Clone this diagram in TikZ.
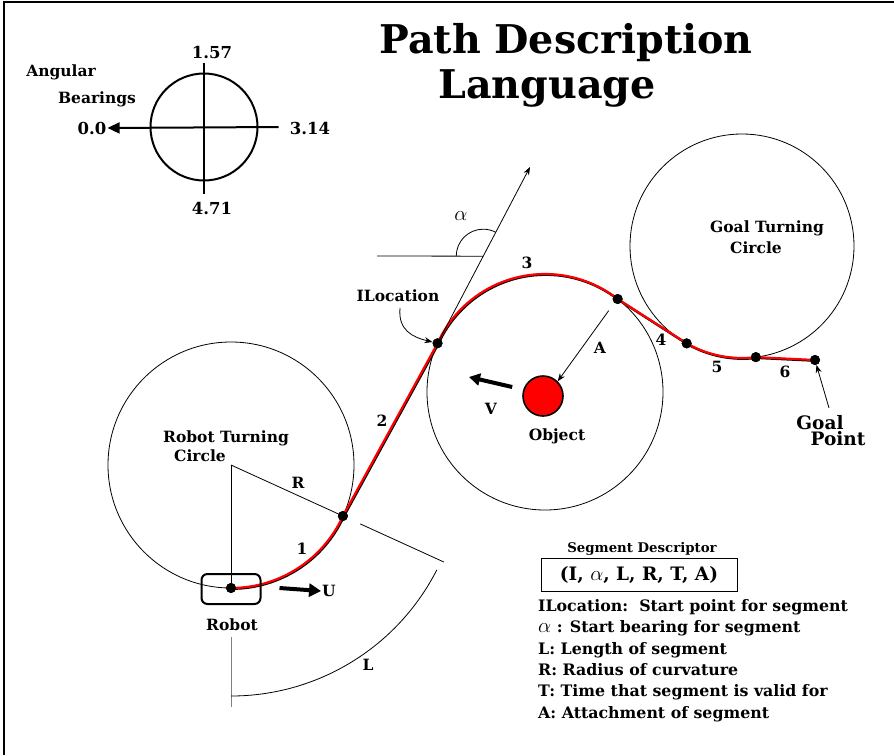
\documentclass[tikz,border=0pt]{standalone}
\usepackage{fontspec}
\setmainfont{DejaVu Serif}
\usetikzlibrary{positioning,arrows.meta,calc}

\begin{document}
\begin{tikzpicture}[x=1pt,y=-1pt,>={Stealth[length=8pt,width=6pt]},
  lbl/.style={font=\bfseries\fontsize{15.5}{17}\selectfont,inner sep=1pt},
  num/.style={font=\bfseries\fontsize{16.5}{18}\selectfont,inner sep=1pt},
  small/.style={font=\bfseries\fontsize{13.3}{15}\selectfont,inner sep=1pt},
  title/.style={font=\bfseries\fontsize{39.6}{44}\selectfont,inner sep=0pt},
  dot/.style={circle,fill,inner sep=0pt,minimum size=10pt},
  thinline/.style={line width=0.8pt},
  seg/.style={draw=red,line width=2.2pt,preaction={draw=black,line width=2.4pt,transform canvas={shift={(0.7pt,-0.7pt)}}}},
  fat/.style={line width=4pt,-{Triangle[length=12pt,width=13pt]}}]
\useasboundingbox (0,0) rectangle (894,755);
\draw[line width=1.5pt] (4,755) -- (4,2) -- (894,2);

% title
\node[title] (t1) at (566,43) {Path Description};
\node[title] (t2) at (547,88) {Language};

% angular bearings
\node[circle,draw,line width=2pt,minimum size=107pt,inner sep=0pt] (bear) at (204,127) {};
\draw[line width=2pt] ($(bear.north)+(0,-10)$) -- ($(bear.south)+(0,12)$);
\node[num] (b0) at (92,128) {0.0};
\draw[line width=2pt,-{Triangle[length=12pt,width=11pt]}] ($(bear.east)+(20,0)$) -- (b0.east);
\node[num] (b157) at (212,52) {1.57};
\node[num] (b314) at (310,128) {3.14};
\node[num] (b471) at (212,208) {4.71};
\node[lbl] (ang) at (61,72) {Angular};
\node[lbl] (brg) at (97,99) {Bearings};

% turning circles
\coordinate (c1) at (231,465);
\coordinate (c2) at (545,392);
\coordinate (c3) at (742,246);
\draw[thinline] (c1) circle[radius=123];
\draw[thinline] (c2) circle[radius=118];
\draw[thinline] (c3) circle[radius=112];

% path points
\node[dot] (robot) at (231,588) {};
\node[dot] (p1) at ($(c1)+(24.5:123)$) {};
\node[dot] (iloc) at ($(c2)+(-155.6:118)$) {};
\node[dot] (p3) at ($(c2)+(-52:118)$) {};
\node[dot] (p4) at ($(c3)+(119.6:112)$) {};
\node[dot] (p5) at ($(c3)+(82.9:112)$) {};
\node[dot] (goal) at (815,360) {};

% segments
\draw[seg] (robot.center) arc[start angle=90,end angle=24.5,radius=123];
\draw[seg] (p1.center) -- (iloc.center);
\draw[seg] (iloc.center) arc[start angle=-155.6,end angle=-52,radius=118];
\draw[seg] (p3.center) -- (p4.center);
\draw[seg] (p4.center) arc[start angle=119.6,end angle=82.9,radius=112];
\draw[seg] (p5.center) -- (goal.center);
\foreach \p in {robot,p1,iloc,p3,p4,p5,goal} \node[dot] at (\p) {};

\node[lbl] (n1) at (302,549) {1};
\node[lbl] (n2) at (382,421) {2};
\node[lbl] (n3) at (527,263) {3};
\node[lbl] (n4) at (661,340) {4};
\node[lbl] (n5) at (717,367) {5};
\node[lbl] (n6) at (785,372) {6};

% robot
\node[draw,line width=2pt,rounded corners=6pt,minimum width=59pt,minimum height=30pt] (robotbox) at (231,589) {};
\node[lbl] (robotlbl) at (232,625) {Robot};
\node[lbl] (ulbl) at (329,591) {U};
\draw[fat] ($(robotbox.east)+(18,-1)$) -- (ulbl.west);
\node[lbl] (rtc1) at (226,438) {Robot Turning};
\node[lbl] (rtc2) at (200,456) {Circle};
\draw[thinline] (c1) -- (robot.center);
\draw[thinline] (c1) -- (p1.center);
\node[lbl] (rlbl) at (298,483) {R};

% length L
\draw[thinline,gray] ($(c1)+(90:172)$) -- ($(c1)+(90:242)$);
\draw[thinline] ($(c1)+(24.5:142)$) -- ($(c1)+(24.5:234)$);
\draw[thinline] ($(c1)+(90:231)$) arc[start angle=90,end angle=27,radius=231];
\node[lbl] (llbl) at (368,665) {L};

% object
\node[circle,draw,fill=red,line width=1.6pt,minimum size=40pt,inner sep=0pt] (obj) at (543,396) {};
\node[lbl] (objlbl) at (557,436) {Object};
\node[lbl] (vlbl) at (491,409) {V};
\coordinate (vtip) at (469,377);
\draw[line width=4pt,-{Triangle[length=11pt,width=12pt]}] ($(obj.west)+(-10,-9)$) -- (vtip);
\draw[thinline,->] ($(p3)!0.12!(obj)$) -- (obj.north east);
\node[lbl] (albl) at (600,348) {A};

% start bearing alpha
\coordinate (hcross) at ($(iloc)!0.494!(530,167)$);
\coordinate (tang) at (530,167);
\draw[thinline] (377,256) -- (hcross);
\draw[thinline,->] (iloc.center) -- (tang);
\draw[thinline] ($(hcross)+(-27,0)$) arc[start angle=180,end angle=297.9,radius=27];
\node[font=\fontsize{20}{22}\selectfont] (alpha) at (461,216) {$\alpha$};
\node[lbl] (iloclbl) at (398,296) {ILocation};
\draw[thinline,->] (400,308) .. controls (398,330) and (412,337) .. (iloc);

% goal
\node[lbl] (gtc1) at (767,228) {Goal Turning};
\node[lbl] (gtc2) at (756,248) {Circle};
\node[font=\bfseries\fontsize{18.5}{20}\selectfont,inner sep=1pt] (glbl1) at (820,423) {Goal};
\node[font=\bfseries\fontsize{18.5}{20}\selectfont,inner sep=1pt] (glbl2) at (838,439) {Point};
\draw[thinline,->] (829,408) -- (goal);

% segment descriptor
\node[small] (sdlbl) at (642,549) {Segment Descriptor};
\node[draw,thinline,minimum width=196pt,minimum height=33pt,inner sep=0pt,font=\bfseries\fontsize{18.5}{21}\selectfont] (sd) at (639,575) {(I, {\fontsize{22}{22}\selectfont$\alpha$}, L, R, T, A)};
\node[anchor=north west,align=left,inner sep=1pt,font=\bfseries\fontsize{15.8}{21.4}\selectfont] (legend) at (537,598) {ILocation:\ \ Start point for segment\\
{\fontsize{21}{21}\selectfont$\alpha$} : Start bearing for segment\\
L: Length of segment\\
R: Radius of curvature\\
T: Time that segment is valid for\\
A: Attachment of segment};
\end{tikzpicture}
\end{document}
